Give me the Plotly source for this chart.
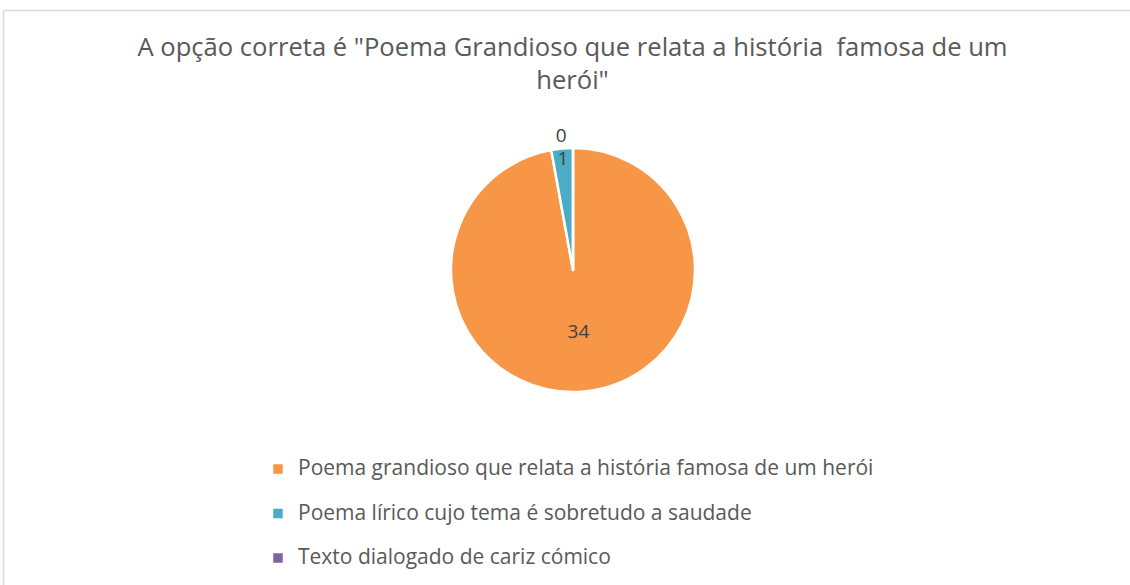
import plotly.graph_objects as go

labels = [
    "Poema grandioso que relata a história famosa de um herói",
    "Poema lírico cujo tema é sobretudo a saudade",
    "Texto dialogado de cariz cómico",
]
values = [34, 1, 0]
colors = ["#F79646", "#4BACC6", "#8064A2"]
title_text = 'A opção correta é "Poema Grandioso que relata a história  famosa de um<br>herói"'

W, H = 1130, 585
FONT = "Open Sans"
LEG_SIZE = 21

# legend entries: larger glyphs, extra blank line to widen the gaps between entries
legend_labels = [
    f"<span style='font-size:{LEG_SIZE}px'>{t}</span><br> " for t in labels
]

fig = go.Figure()
fig.add_trace(go.Pie(
    labels=legend_labels,
    values=values,
    sort=False,
    direction="clockwise",
    rotation=0,
    marker=dict(colors=colors, line=dict(color="white", width=2.5)),
    textinfo="value",
    textposition=["inside", "inside", "outside"],
    insidetextorientation="horizontal",
    textfont=dict(family=FONT, size=19, color="#404040"),
    domain=dict(x=[451 / W, 695 / W], y=[(H - 393) / H, (H - 147) / H]),
    showlegend=True,
    hoverinfo="value+percent",
))

border = dict(color="#D9D9D9", width=1.5)
fig.update_layout(
    width=W, height=H,
    margin=dict(l=0, r=0, t=0, b=0, autoexpand=False),
    paper_bgcolor="white",
    plot_bgcolor="white",
    font=dict(family=FONT, color="#595959"),
    uniformtext=dict(minsize=19, mode="show"),
    title=dict(
        text=title_text,
        x=572.5 / W, xanchor="center",
        y=1 - 55.5 / H, yanchor="top",
        font=dict(family=FONT, size=25.6, color="#595959"),
    ),
    legend=dict(
        orientation="v",
        x=258 / W, xanchor="left",
        y=1 - 452 / H, yanchor="top",
        font=dict(family=FONT, size=16, color="#595959"),
        valign="top",
        bgcolor="rgba(0,0,0,0)",
    ),
    shapes=[
        dict(type="line", xref="paper", yref="paper",
             x0=3.5 / W, x1=1.05, y0=1 - 10.5 / H, y1=1 - 10.5 / H,
             line=border, layer="below"),
        dict(type="line", xref="paper", yref="paper",
             x0=3.5 / W, x1=3.5 / W, y0=-0.05, y1=1 - 10.5 / H,
             line=border, layer="below"),
    ],
)

fig.write_html(
    "out.html",
    config={"displayModeBar": False},
    post_script="document.body.style.margin='0px';",
)
